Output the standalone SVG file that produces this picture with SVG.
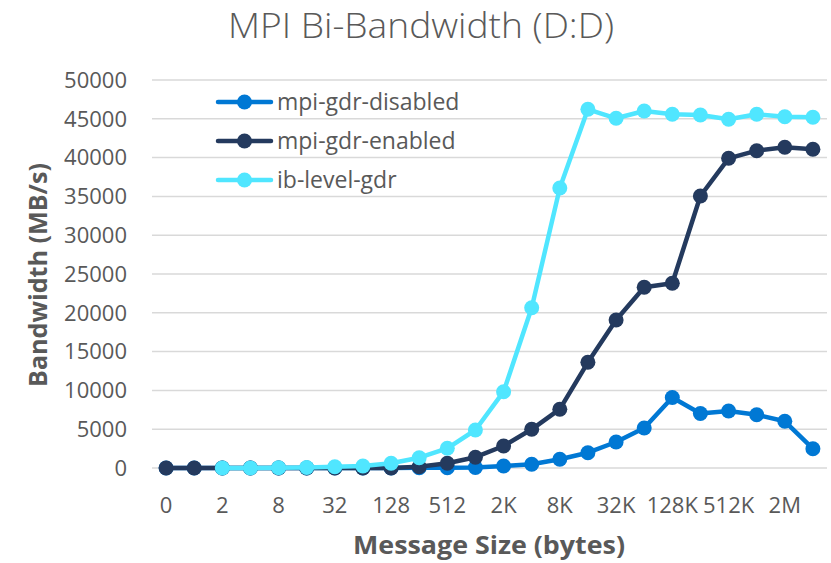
<svg xmlns="http://www.w3.org/2000/svg" width="831" height="563" viewBox="0 0 831 563">
  <style>
    text { font-family: "Open Sans", "Noto Sans", "Liberation Sans", sans-serif; fill: #595959; }
    .title { font-size: 34px; font-weight: 300; text-anchor: middle; }
    .tick { font-size: 22px; }
    .ytick { text-anchor: end; }
    .xtick { text-anchor: middle; }
    .axis { font-size: 24.5px; font-weight: 700; text-anchor: middle; }
    .legend { font-size: 23px; }
    .grid line { stroke: #D9D9D9; stroke-width: 1.5; }
    .series polyline { fill: none; stroke-width: 4.5; stroke-linejoin: round; stroke-linecap: round; }
    .s1 polyline, .s1 line { stroke: #0078D4; } .s1 use { fill: #0078D4; }
    .s2 polyline, .s2 line { stroke: #243A5E; } .s2 use { fill: #243A5E; }
    .s3 polyline, .s3 line { stroke: #50E6FF; } .s3 use { fill: #50E6FF; }
    .key line { stroke-width: 4.5; stroke-linecap: round; }
  </style>
  <defs>
    <circle id="dot" r="7.5"/>
  </defs>

  <rect width="831" height="563" fill="#FFFFFF"/>

  <text class="title" x="421" y="37.5" textLength="386" lengthAdjust="spacingAndGlyphs">MPI Bi-Bandwidth (D:D)</text>

  <!-- horizontal gridlines, 5000 MB/s apart -->
  <g class="grid">
    <line x1="152" y1="468" x2="827" y2="468"/>
    <line x1="152" y1="429.2" x2="827" y2="429.2"/>
    <line x1="152" y1="390.4" x2="827" y2="390.4"/>
    <line x1="152" y1="351.6" x2="827" y2="351.6"/>
    <line x1="152" y1="312.8" x2="827" y2="312.8"/>
    <line x1="152" y1="274" x2="827" y2="274"/>
    <line x1="152" y1="235.2" x2="827" y2="235.2"/>
    <line x1="152" y1="196.4" x2="827" y2="196.4"/>
    <line x1="152" y1="157.6" x2="827" y2="157.6"/>
    <line x1="152" y1="118.8" x2="827" y2="118.8"/>
    <line x1="152" y1="80" x2="827" y2="80"/>
  </g>

  <!-- y tick labels -->
  <g class="tick ytick">
    <text x="127" y="475.8">0</text>
    <text x="127" y="437">5000</text>
    <text x="127" y="398.2">10000</text>
    <text x="127" y="359.4">15000</text>
    <text x="127" y="320.6">20000</text>
    <text x="127" y="281.8">25000</text>
    <text x="127" y="243">30000</text>
    <text x="127" y="204.2">35000</text>
    <text x="127" y="165.4">40000</text>
    <text x="127" y="126.6">45000</text>
    <text x="127" y="87.8">50000</text>
  </g>

  <!-- x tick labels (every other message size) -->
  <g class="tick xtick">
    <text x="166.1" y="512.5">0</text>
    <text x="222.3" y="512.5">2</text>
    <text x="278.6" y="512.5">8</text>
    <text x="334.8" y="512.5">32</text>
    <text x="391.1" y="512.5">128</text>
    <text x="447.3" y="512.5">512</text>
    <text x="503.6" y="512.5">2K</text>
    <text x="559.8" y="512.5">8K</text>
    <text x="616.1" y="512.5">32K</text>
    <text x="672.3" y="512.5">128K</text>
    <text x="728.6" y="512.5">512K</text>
    <text x="784.8" y="512.5">2M</text>
  </g>

  <text class="axis" x="489" y="554" textLength="272" lengthAdjust="spacingAndGlyphs">Message Size (bytes)</text>
  <text class="axis" transform="translate(47 275) rotate(-90)" textLength="224" lengthAdjust="spacingAndGlyphs">Bandwidth (MB/s)</text>

  <!-- data series -->
  <g id="mpi-gdr-disabled" class="series s1">
    <polyline points="166.1,468 194.2,468 222.3,468 250.4,468 278.6,468 306.7,468 334.8,468 362.9,468 391.1,468 419.2,467.8 447.3,467.7 475.4,467.5 503.6,466 531.7,464.3 559.8,459.3 587.9,452.7 616.1,442 644.2,428 672.3,397.5 700.4,413.5 728.6,411 756.7,414.7 784.8,421.3 812.9,448.7"/>
    <use href="#dot" x="166.1" y="468"/><use href="#dot" x="194.2" y="468"/><use href="#dot" x="222.3" y="468"/>
    <use href="#dot" x="250.4" y="468"/><use href="#dot" x="278.6" y="468"/><use href="#dot" x="306.7" y="468"/>
    <use href="#dot" x="334.8" y="468"/><use href="#dot" x="362.9" y="468"/><use href="#dot" x="391.1" y="468"/>
    <use href="#dot" x="419.2" y="467.8"/><use href="#dot" x="447.3" y="467.7"/><use href="#dot" x="475.4" y="467.5"/>
    <use href="#dot" x="503.6" y="466"/><use href="#dot" x="531.7" y="464.3"/><use href="#dot" x="559.8" y="459.3"/>
    <use href="#dot" x="587.9" y="452.7"/><use href="#dot" x="616.1" y="442"/><use href="#dot" x="644.2" y="428"/>
    <use href="#dot" x="672.3" y="397.5"/><use href="#dot" x="700.4" y="413.5"/><use href="#dot" x="728.6" y="411"/>
    <use href="#dot" x="756.7" y="414.7"/><use href="#dot" x="784.8" y="421.3"/><use href="#dot" x="812.9" y="448.7"/>
  </g>

  <g id="mpi-gdr-enabled" class="series s2">
    <polyline points="166.1,468 194.2,468 222.3,468 250.4,468 278.6,468 306.7,468 334.8,468 362.9,468 391.1,468 419.2,466.7 447.3,463.3 475.4,457.2 503.6,446 531.7,429.3 559.8,409.2 587.9,362.3 616.1,320 644.2,287.3 672.3,283.3 700.4,196 728.6,158.3 756.7,150.7 784.8,147.3 812.9,149.3"/>
    <use href="#dot" x="166.1" y="468"/><use href="#dot" x="194.2" y="468"/><use href="#dot" x="222.3" y="468"/>
    <use href="#dot" x="250.4" y="468"/><use href="#dot" x="278.6" y="468"/><use href="#dot" x="306.7" y="468"/>
    <use href="#dot" x="334.8" y="468"/><use href="#dot" x="362.9" y="468"/><use href="#dot" x="391.1" y="468"/>
    <use href="#dot" x="419.2" y="466.7"/><use href="#dot" x="447.3" y="463.3"/><use href="#dot" x="475.4" y="457.2"/>
    <use href="#dot" x="503.6" y="446"/><use href="#dot" x="531.7" y="429.3"/><use href="#dot" x="559.8" y="409.2"/>
    <use href="#dot" x="587.9" y="362.3"/><use href="#dot" x="616.1" y="320"/><use href="#dot" x="644.2" y="287.3"/>
    <use href="#dot" x="672.3" y="283.3"/><use href="#dot" x="700.4" y="196"/><use href="#dot" x="728.6" y="158.3"/>
    <use href="#dot" x="756.7" y="150.7"/><use href="#dot" x="784.8" y="147.3"/><use href="#dot" x="812.9" y="149.3"/>
  </g>

  <g id="ib-level-gdr" class="series s3">
    <polyline points="222.3,468 250.4,468 278.6,467.8 306.7,467.5 334.8,466.8 362.9,466 391.1,463.3 419.2,457.7 447.3,448.3 475.4,430 503.6,391.7 531.7,307.8 559.8,188 587.9,109.3 616.1,118.3 644.2,111 672.3,114.3 700.4,115 728.6,119.3 756.7,114.3 784.8,116.7 812.9,117.3"/>
    <use href="#dot" x="222.3" y="468"/><use href="#dot" x="250.4" y="468"/><use href="#dot" x="278.6" y="467.8"/>
    <use href="#dot" x="306.7" y="467.5"/><use href="#dot" x="334.8" y="466.8"/><use href="#dot" x="362.9" y="466"/>
    <use href="#dot" x="391.1" y="463.3"/><use href="#dot" x="419.2" y="457.7"/><use href="#dot" x="447.3" y="448.3"/>
    <use href="#dot" x="475.4" y="430"/><use href="#dot" x="503.6" y="391.7"/><use href="#dot" x="531.7" y="307.8"/>
    <use href="#dot" x="559.8" y="188"/><use href="#dot" x="587.9" y="109.3"/><use href="#dot" x="616.1" y="118.3"/>
    <use href="#dot" x="644.2" y="111"/><use href="#dot" x="672.3" y="114.3"/><use href="#dot" x="700.4" y="115"/>
    <use href="#dot" x="728.6" y="119.3"/><use href="#dot" x="756.7" y="114.3"/><use href="#dot" x="784.8" y="116.7"/>
    <use href="#dot" x="812.9" y="117.3"/>
  </g>

  <!-- legend -->
  <g id="legend" class="legend">
    <g class="key s1"><line x1="218" y1="102" x2="271" y2="102"/><use href="#dot" x="244.5" y="102"/></g>
    <text x="277" y="109.5">mpi-gdr-disabled</text>
    <g class="key s2"><line x1="218" y1="141" x2="271" y2="141"/><use href="#dot" x="244.5" y="141"/></g>
    <text x="277" y="148.5">mpi-gdr-enabled</text>
    <g class="key s3"><line x1="218" y1="180" x2="271" y2="180"/><use href="#dot" x="244.5" y="180"/></g>
    <text x="277" y="187.5">ib-level-gdr</text>
  </g>
</svg>
